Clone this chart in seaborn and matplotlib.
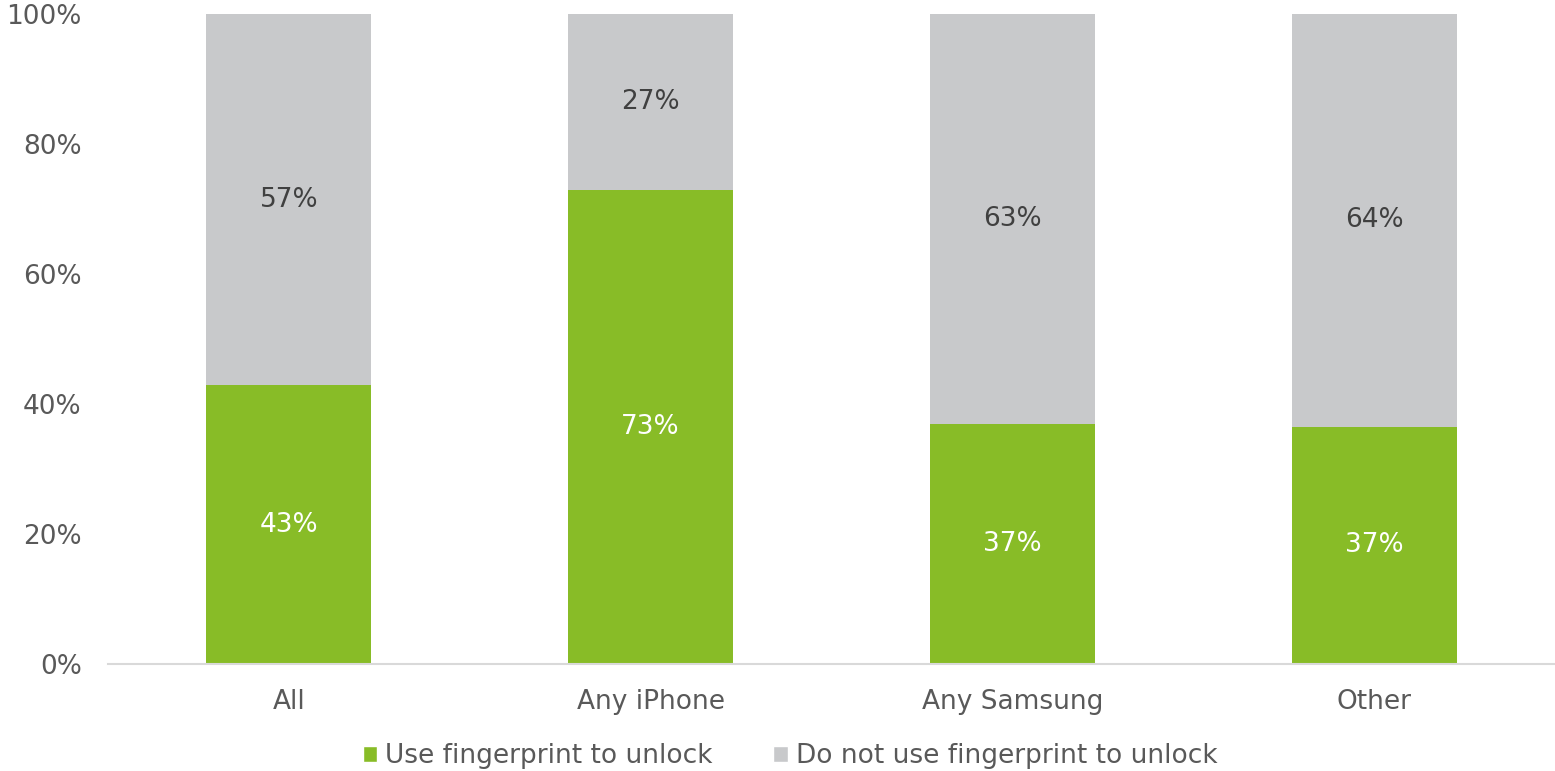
import matplotlib
matplotlib.use('Agg')
import matplotlib.pyplot as plt
import seaborn as sns
import pandas as pd
from matplotlib.patches import Patch

# data
categories = ['All', 'Any iPhone', 'Any Samsung', 'Other']
use_fp = [42.9, 72.9, 36.9, 36.5]
use_labels = ['43%', '73%', '37%', '37%']
not_labels = ['57%', '27%', '63%', '64%']
series_names = ['Use fingerprint to unlock', 'Do not use fingerprint to unlock']

green = '#88BC27'
grey = '#C8C9CB'
txt = '#595959'

df = pd.DataFrame({'cat': categories, 'use': use_fp})
df['total'] = 100.0

sns.set_style('white')
plt.rcParams['font.family'] = ['DejaVu Sans']

fig = plt.figure(figsize=(15.55, 7.71), dpi=100)
ax = fig.add_axes([0.0695, 0.1388, 0.9305, 0.843])

# grey full-height bar behind, green part in front -> stacked look
sns.barplot(data=df, x='cat', y='total', color=grey, width=0.456,
            saturation=1, linewidth=0, ax=ax)
sns.barplot(data=df, x='cat', y='use', color=green, width=0.456,
            saturation=1, linewidth=0, ax=ax)

for i, v in enumerate(use_fp):
    ax.text(i, v / 2, use_labels[i], ha='center', va='center',
            color='white', fontsize=19)
    ax.text(i, v + (100 - v) / 2, not_labels[i], ha='center', va='center',
            color='#404040', fontsize=19)

ax.set_ylim(0, 100)
ax.set_xlim(-0.5, 3.5)
ax.set_yticks(range(0, 101, 20))
ax.set_yticklabels([f'{t}%' for t in range(0, 101, 20)])
ax.tick_params(axis='y', colors=txt, labelsize=19, length=0, pad=19)
ax.tick_params(axis='x', colors=txt, labelsize=19, length=0, pad=18)
ax.set_xlabel('')
ax.set_ylabel('')

for s in ['top', 'right', 'left']:
    ax.spines[s].set_visible(False)
ax.spines['bottom'].set_color('#D9D9D9')
ax.spines['bottom'].set_linewidth(1.5)

handles = [Patch(facecolor=green, label=series_names[0]),
           Patch(facecolor=grey, label=series_names[1])]
fig.legend(handles=handles, loc='center', bbox_to_anchor=(0.508, 0.019),
           ncol=2, frameon=False, fontsize=19, labelcolor=txt,
           handlelength=0.55, handleheight=0.55, handletextpad=0.3,
           columnspacing=2.3)

fig.savefig('out.png', dpi=100)
